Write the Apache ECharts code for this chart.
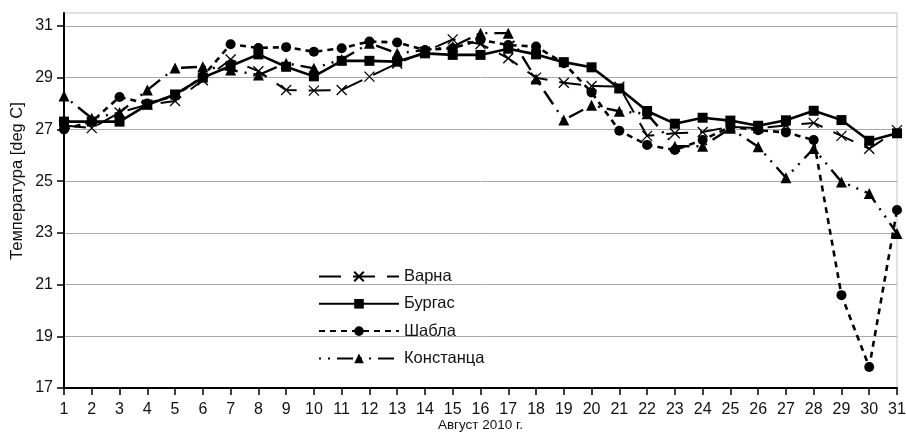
<!DOCTYPE html>
<html>
<head>
<meta charset="utf-8">
<script src="https://cdn.jsdelivr.net/npm/echarts@6/dist/echarts.min.js"></script>
<style>
html,body{margin:0;padding:0;background:#fff;}
#chart{width:906px;height:433px;}
</style>
</head>
<body>
<div id="chart"></div>
<script>
var days = ['1','2','3','4','5','6','7','8','9','10','11','12','13','14','15','16','17','18','19','20','21','22','23','24','25','26','27','28','29','30','31'];
var yTicks = [17, 19, 21, 23, 25, 27, 29, 31];
var seriesNames = ['Варна', 'Бургас', 'Шабла', 'Констанца'];
var varna = [27.15, 27.05, 27.65, 27.95, 28.1, 28.9, 29.7, 29.25, 28.52, 28.5, 28.52, 29.04, 29.55, 30.0, 30.48, 30.3, 29.75, 29.0, 28.8, 28.68, 28.65, 26.75, 26.85, 26.9, 27.1, 27.05, 27.15, 27.25, 26.75, 26.25, 26.97];
var burgas = [27.3, 27.3, 27.3, 27.95, 28.35, 29.0, 29.45, 29.9, 29.42, 29.05, 29.65, 29.65, 29.62, 29.94, 29.88, 29.88, 30.12, 29.9, 29.6, 29.4, 28.58, 27.71, 27.22, 27.45, 27.34, 27.14, 27.35, 27.72, 27.36, 26.56, 26.85];
var shabla = [27.0, 27.3, 28.25, 28.0, 28.3, 29.05, 30.29, 30.15, 30.18, 30.0, 30.14, 30.4, 30.36, 30.07, 30.14, 30.46, 30.26, 30.2, 29.56, 28.43, 26.95, 26.4, 26.2, 26.59, 27.1, 26.97, 26.88, 26.59, 20.59, 17.81, 23.88];
var constanta = [28.29, 27.43, 27.65, 28.52, 29.37, 29.42, 29.3, 29.1, 29.56, 29.36, 29.7, 30.33, 29.94, 30.07, 30.2, 30.72, 30.72, 28.95, 27.36, 27.93, 27.7, 27.6, 26.35, 26.35, 27.04, 26.33, 25.13, 26.26, 24.97, 24.52, 22.97];
var yName = 'Температура [deg C]';
var xName = 'Август 2010 г.';

var chart = echarts.init(document.getElementById('chart'), null, {renderer: 'canvas'});
var FONT = 'Liberation Sans, Arial, sans-serif';
var crossPath = 'path://M0,0L10,10M10,0L0,10';

var option = {
  animation: false,
  backgroundColor: '#fff',
  textStyle: {fontFamily: FONT},
  grid: {
    left: 64, right: 9, top: 13, bottom: 45,
    outerBoundsMode: 'none',
    containLabel: false,
    show: true, borderColor: '#c4c4c4', borderWidth: 1, backgroundColor: 'transparent'
  },
  graphic: [{
    type: 'text',
    x: 17, y: 181,
    rotation: Math.PI / 2,
    style: {
      text: yName,
      font: '16.5px ' + FONT,
      fill: '#111',
      align: 'center',
      verticalAlign: 'middle'
    }
  }],
  legend: {
    orient: 'vertical',
    left: 318, top: 268,
    padding: 0,
    itemWidth: 80, itemHeight: 12, itemGap: 10.3,
    textStyle: {fontFamily: FONT, fontSize: 16.5, color: '#111'},
    data: seriesNames
  },
  xAxis: {
    type: 'category',
    data: days,
    boundaryGap: false,
    name: xName,
    nameLocation: 'middle',
    nameGap: 30,
    nameMoveOverlap: false,
    nameTextStyle: {fontFamily: FONT, fontSize: 13.5, color: '#111'},
    axisLine: {lineStyle: {color: '#000', width: 2}},
    axisTick: {show: true, length: 7, lineStyle: {color: '#000', width: 1.5}, interval: 0},
    axisLabel: {interval: 0, margin: 14, fontSize: 16, color: '#111', fontFamily: FONT},
    splitLine: {show: false}
  },
  yAxis: {
    type: 'value',
    min: 17, max: 31.5, interval: 2,
    axisLine: {show: true, lineStyle: {color: '#000', width: 2}},
    axisTick: {show: true, length: 7, lineStyle: {color: '#000', width: 1.5}, customValues: yTicks},
    axisLabel: {margin: 11, fontSize: 16, color: '#111', fontFamily: FONT, customValues: yTicks,
      formatter: function (v) { return Number.isInteger(v) ? String(v) : ''; }},
    splitLine: {show: true, lineStyle: {color: '#a8a8a8', width: 1}}
  },
  series: [
    {
      name: seriesNames[0], type: 'line', data: varna,
      symbol: crossPath, symbolSize: 10, showAllSymbol: true,
      lineStyle: {color: '#000', width: 2, type: [22, 12]},
      itemStyle: {color: '#000', borderColor: '#000', borderWidth: 1.3}
    },
    {
      name: seriesNames[1], type: 'line', data: burgas,
      symbol: 'rect', symbolSize: 10, showAllSymbol: true,
      lineStyle: {color: '#000', width: 2.6, type: 'solid'},
      itemStyle: {color: '#000'}
    },
    {
      name: seriesNames[2], type: 'line', data: shabla,
      symbol: 'circle', symbolSize: 10, showAllSymbol: true,
      lineStyle: {color: '#000', width: 2.6, type: [6, 5]},
      itemStyle: {color: '#000'}
    },
    {
      name: seriesNames[3], type: 'line', data: constanta,
      symbol: 'triangle', symbolSize: 11, showAllSymbol: true,
      lineStyle: {color: '#000', width: 2.4, type: [2, 7, 2, 7, 16, 7]},
      itemStyle: {color: '#000'}
    }
  ]
};
chart.setOption(option);
</script>
</body>
</html>
